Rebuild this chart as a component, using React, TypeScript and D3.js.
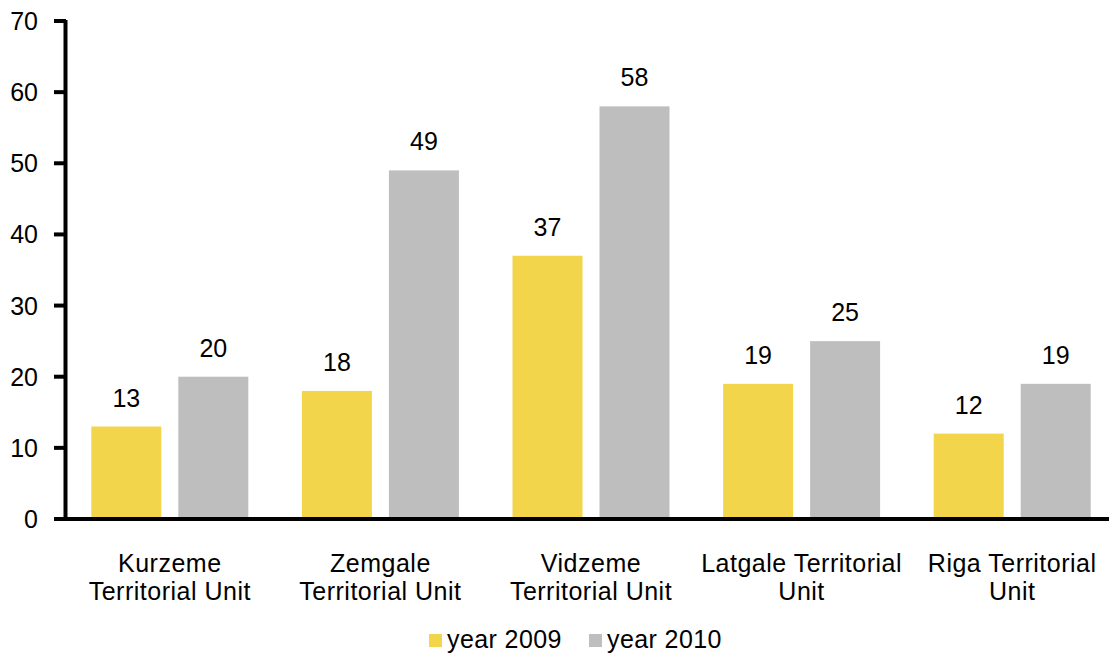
import React from "react";
import * as d3 from "d3";

const categories: string[][] = [
  ["Kurzeme", "Territorial Unit"],
  ["Zemgale", "Territorial Unit"],
  ["Vidzeme", "Territorial Unit"],
  ["Latgale Territorial", "Unit"],
  ["Riga Territorial", "Unit"],
];
const values2009 = [13, 18, 37, 19, 12];
const values2010 = [20, 49, 58, 25, 19];
const yTicks = [0, 10, 20, 30, 40, 50, 60, 70];
const seriesNames = ["year 2009", "year 2010"];
const colors = ["#F2D54B", "#BEBEBE"];

const W = 1109;
const H = 655;
const FONT = "'Liberation Sans', Arial, sans-serif";

export default function App() {
  const left = 64.5;
  const right = left + 210.6 * 5;
  const y = d3.scaleLinear().domain([0, 70]).range([519, 21]);
  const x0 = d3
    .scaleBand<number>()
    .domain(categories.map((_, i) => i))
    .range([left, right])
    .paddingInner(0)
    .paddingOuter(0);
  const x1 = d3
    .scaleBand<number>()
    .domain([0, 1])
    .range([26.8, 210.6 - 26.8])
    .paddingInner(17 / 87);
  const series = [values2009, values2010];

  return (
    <svg
      width={W}
      height={H}
      style={{ position: "absolute", left: 0, top: 0, background: "#fff" }}
      fontFamily={FONT}
    >
      {series.map((vals, s) =>
        vals.map((v, i) => {
          const bx = (x0(i) as number) + (x1(s) as number);
          const bw = x1.bandwidth();
          return (
            <g key={`${s}-${i}`}>
              <rect x={bx} y={y(v)} width={bw} height={y(0) - y(v)} fill={colors[s]} />
              <text
                x={bx + bw / 2}
                y={y(v) - 20}
                textAnchor="middle"
                fontSize={25}
                fill="#000"
              >
                {v}
              </text>
            </g>
          );
        })
      )}
      {/* y axis */}
      <line x1={65.5} x2={65.5} y1={y(70) - 1} y2={y(0)} stroke="#000" strokeWidth={4} />
      {yTicks.map((t) => (
        <g key={t}>
          <line x1={54} x2={66} y1={y(t)} y2={y(t)} stroke="#000" strokeWidth={4} />
          <text x={38} y={y(t) + 9} textAnchor="end" fontSize={25} fill="#000">
            {t}
          </text>
        </g>
      ))}
      {/* x axis */}
      <line x1={54} x2={W} y1={y(0)} y2={y(0)} stroke="#000" strokeWidth={4} />
      {categories.map((lines, i) => {
        const cx = (x0(i) as number) + x0.bandwidth() / 2;
        return (
          <text key={i} textAnchor="middle" fontSize={25} fill="#000" letterSpacing={0.5}>
            {lines.map((l, j) => (
              <tspan key={j} x={cx} y={572 + j * 28}>
                {l}
              </tspan>
            ))}
          </text>
        );
      })}
      {/* legend */}
      {seriesNames.map((n, s) => {
        const lx = 429 + s * 160;
        return (
          <g key={n}>
            <rect x={lx} y={634} width={13} height={13} fill={colors[s]} />
            <text x={lx + 18} y={648} fontSize={25} fill="#000" letterSpacing={0.4}>
              {n}
            </text>
          </g>
        );
      })}
    </svg>
  );
}
